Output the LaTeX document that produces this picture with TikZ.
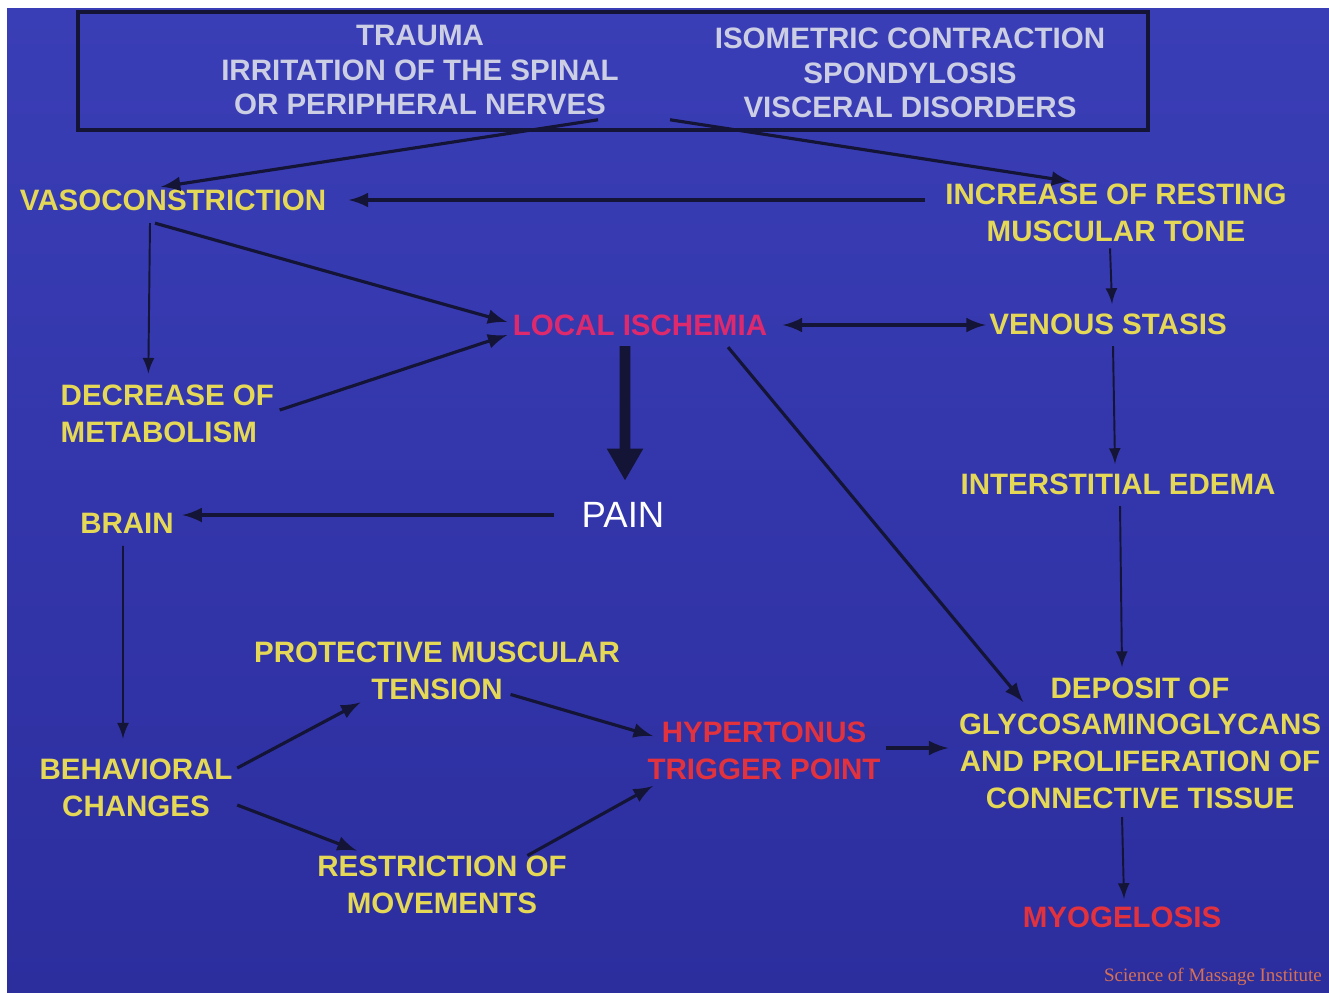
\documentclass[tikz,border=0pt]{standalone}
\usepackage{fontspec}
\setmainfont{Liberation Sans}
\newfontfamily\footfont{Liberation Serif}
\usepackage{tikz}
\usetikzlibrary{positioning, arrows.meta, calc}

\definecolor{slidebluetop}{RGB}{58,62,182}
\definecolor{slidebluebot}{RGB}{44,46,158}
\definecolor{slideyellow}{RGB}{228,216,86}
\definecolor{slidegray}{RGB}{204,206,228}
\definecolor{ischemiared}{RGB}{222,42,108}
\definecolor{triggerred}{RGB}{226,50,62}
\definecolor{footorange}{RGB}{214,112,84}
\definecolor{arrowink}{RGB}{20,20,54}

\begin{document}
\begin{tikzpicture}[
    slidetext/.style={
        inner sep=0pt,
        align=center,
        text=slideyellow,
        font=\fontsize{8.4}{10.4}\selectfont\bfseries
    },
    causetext/.style={
        inner sep=0pt,
        align=center,
        text=slidegray,
        font=\fontsize{8.4}{9.8}\selectfont\bfseries
    },
    flow/.style={->, >=latex, line width=0.9pt, arrowink},
    thinflow/.style={->, >=latex, line width=0.55pt, arrowink}
]
    % Slide
    \useasboundingbox (0,0) rectangle (13.29,-9.92);
    \fill[white] (0,0) rectangle (13.29,-9.92);
    \shade[top color=slidebluetop, bottom color=slidebluebot] (0.07,-0.08) rectangle (13.29,-9.92);

    % Causes
    \node[draw=arrowink, line width=1pt, minimum width=10.70cm, minimum height=1.18cm, inner sep=0pt] (causes) at (6.13,-0.71) {};
    \node[causetext] (trauma) at (4.20,-0.70) {TRAUMA\\IRRITATION OF THE SPINAL\\OR PERIPHERAL NERVES};
    \node[causetext] (isometric) at (9.10,-0.73) {ISOMETRIC CONTRACTION\\SPONDYLOSIS\\VISCERAL DISORDERS};

    % Upper chain
    \node[slidetext] (vaso) at (1.73,-2.00) {VASOCONSTRICTION};
    \node[slidetext] (tone) at (11.16,-2.13) {INCREASE OF RESTING\\MUSCULAR TONE};
    \node[slidetext, text=ischemiared] (ischemia) at (6.40,-3.25) {LOCAL ISCHEMIA};
    \node[slidetext] (stasis) at (11.08,-3.24) {VENOUS STASIS};
    \node[slidetext, align=left, anchor=west] (metab) at (0.60,-4.14) {DECREASE OF\\METABOLISM};
    \node[slidetext] (edema) at (11.18,-4.84) {INTERSTITIAL EDEMA};

    % Pain
    \node[inner sep=0pt, text=white, font=\fontsize{10.4}{12}\selectfont] (pain) at (6.23,-5.15) {PAIN};
    \node[slidetext] (brain) at (1.27,-5.23) {BRAIN};

    % Lower loop
    \node[slidetext] (protect) at (4.37,-6.71) {PROTECTIVE MUSCULAR\\TENSION};
    \node[slidetext] (behave) at (1.36,-7.88) {BEHAVIORAL\\CHANGES};
    \node[slidetext] (restrict) at (4.42,-8.85) {RESTRICTION OF\\MOVEMENTS};
    \node[slidetext, text=triggerred] (trigger) at (7.64,-7.51) {HYPERTONUS\\TRIGGER POINT};
    \node[slidetext] (deposit) at (11.40,-7.43) {DEPOSIT OF\\GLYCOSAMINOGLYCANS\\AND PROLIFERATION OF\\CONNECTIVE TISSUE};
    \node[slidetext, text=triggerred] (myo) at (11.22,-9.17) {MYOGELOSIS};

    % Credit
    \node[inner sep=0pt, text=footorange, font=\footfont\fontsize{5.4}{6}\selectfont] (credit) at (12.13,-9.77) {Science of Massage Institute};

    % Arrows
    \draw[flow] ($(causes.south)+(-0.15,0.12)$) -- ($(vaso.north)+(-0.12,0.02)$);
    \draw[flow] ($(causes.south)+(0.57,0.12)$) -- ($(tone.north)+(-0.45,0.02)$);
    \draw[flow, shorten <=0.2cm, shorten >=0.22cm] (tone.west |- vaso.east) -- (vaso.east);
    \draw[thinflow] ($(vaso.south)+(-0.23,-0.12)$) -- ($(metab.north)+(-0.19,0.11)$);
    \draw[flow] ($(vaso.south)+(-0.18,-0.12)$) -- ($(ischemia.west)+(-0.05,0.03)$);
    \draw[flow] ($(metab.east)+(0.05,0.04)$) -- ($(ischemia.west)+(-0.05,-0.10)$);
    \draw[flow, <->, shorten <=0.15cm, shorten >=0.03cm] (ischemia.east) -- (ischemia.east -| stasis.west);
    \draw[thinflow] ($(tone.south)+(-0.06,-0.06)$) -- ($(stasis.north)+(0.04,0.09)$);
    \draw[thinflow] ($(stasis.south)+(0.05,-0.11)$) -- ($(edema.north)+(-0.03,0.09)$);
    \draw[thinflow] ($(edema.south)+(0.02,-0.11)$) -- ($(deposit.north)+(-0.18,0.10)$);
    \draw[thinflow] ($(deposit.south)+(-0.18,-0.08)$) -- ($(myo.north)+(0.02,0.07)$);
    \draw[flow] ($(ischemia.south)+(0.88,-0.11)$) -- ($(deposit.north west)+(0.65,-0.25)$);
    \draw[arrowink, line width=3pt, -{Triangle[length=0.32cm, width=0.34cm]}] ($(ischemia.south)+(-0.15,-0.10)$) -- ($(pain.north)+(0.02,0.21)$);
    \draw[flow, shorten <=0.27cm, shorten >=0.08cm] (pain.west) -- (pain.west -| brain.east);
    \draw[thinflow] ($(brain.south)+(-0.04,-0.12)$) -- ($(behave.north)+(-0.13,0.20)$);
    \draw[flow] ($(behave.east)+(0.04,0.20)$) -- ($(protect.south west)+(1.07,-0.02)$);
    \draw[flow] ($(behave.east)+(0.04,-0.17)$) -- ($(restrict.north west)+(0.40,0.05)$);
    \draw[flow] ($(protect.south east)+(-1.10,0.06)$) -- ($(trigger.west)+(0.06,0.15)$);
    \draw[flow] ($(restrict.north east)+(-0.40,0.00)$) -- ($(trigger.west)+(0.06,-0.35)$);
    \draw[flow, shorten <=0.05cm, shorten >=0.1cm] ($(trigger.east)+(0,0.03)$) -- ($(trigger.east -| deposit.west)+(0,0.03)$);
\end{tikzpicture}
\end{document}
